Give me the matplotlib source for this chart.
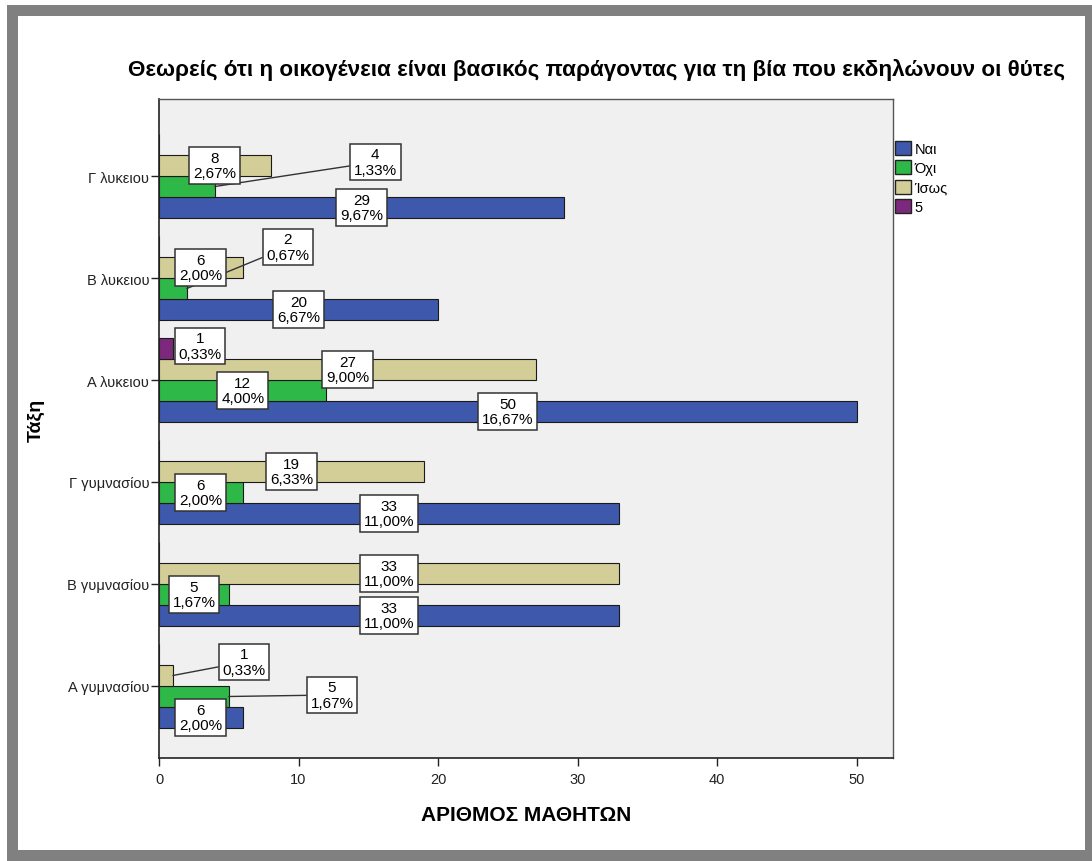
import matplotlib
matplotlib.use('Agg')
import matplotlib.pyplot as plt
from matplotlib.patches import Rectangle, Patch
import numpy as np

plt.rcParams['font.family'] = ['Liberation Sans', 'DejaVu Sans']

# ---------------- data ----------------
categories = ['Α γυμνασίου', 'Β γυμνασίου', 'Γ γυμνασίου', 'Α λυκειου', 'Β λυκειου', 'Γ λυκειου']
series_names = ['Ναι', 'Όχι', 'Ίσως', '5']
nai = [6, 33, 33, 50, 20, 29]
ochi = [5, 5, 6, 12, 2, 4]
isos = [1, 33, 19, 27, 6, 8]
five = [0, 0, 0, 1, 0, 0]
total_n = 300
x_ticks = [0, 10, 20, 30, 40, 50]

title = 'Θεωρείς ότι η οικογένεια είναι βασικός παράγοντας για τη βία που εκδηλώνουν οι θύτες'
x_label = 'ΑΡΙΘΜΟΣ ΜΑΘΗΤΩΝ'
y_label = 'Τάξη'

# ---------------- styles / placement ----------------
colors = ['#3E58AC', '#2EB848', '#D3CE97', '#7C287D']
# labels moved away from the bar (series index, category index) -> label position (data coords)
label_moves = {
    (1, 5): (15.5, 5.137),
    (1, 4): (9.24, 4.304),
    (3, 3): (2.94, 3.333),
    (2, 0): (6.09, 0.235),
    (1, 0): (12.4, -0.088),
}

W, H = 1092, 862
fig = plt.figure(figsize=(W / 100, H / 100), dpi=100)
fig.patch.set_facecolor('white')

def rect_px(x0, y0, x1, y1, color):
    fig.add_artist(Rectangle((x0 / W, 1 - y1 / H), (x1 - x0) / W, (y1 - y0) / H,
                             transform=fig.transFigure, facecolor=color,
                             edgecolor='none', zorder=0))

# outer grey frame
frame_c = '#808080'
rect_px(7, 6, W, 17, frame_c)
rect_px(7, 6, 18, H, frame_c)
rect_px(1085, 6, W, H, frame_c)
rect_px(7, 851, W, H, frame_c)

ax = fig.add_axes([159 / W, 1 - 759 / H, (893 - 159) / W, (759 - 100) / H])
ax.set_facecolor('#F0F0F0')

h = 0.206
ypos = np.arange(len(categories))
offsets = [-1.5, -0.5, 0.5, 1.5]
all_series = [nai, ochi, isos, five]

for s, (vals, off, c, name) in enumerate(zip(all_series, offsets, colors, series_names)):
    ax.barh(ypos + off * h, vals, height=h, color=c, edgecolor='#1a1a1a',
            linewidth=0.8, label=name, zorder=2)

bbox_style = dict(boxstyle='square,pad=0.25', facecolor='white', edgecolor='#333333', linewidth=1.1)
for s, (vals, off) in enumerate(zip(all_series, offsets)):
    for i, v in enumerate(vals):
        if v <= 0:
            continue
        yc = i + off * h
        txt = f'{v}\n{v / total_n * 100:.2f}%'.replace('.', ',')
        if (s, i) in label_moves:
            lx, ly = label_moves[(s, i)]
            ax.annotate(txt, xy=(v, yc), xytext=(lx, ly), textcoords='data',
                        ha='center', va='center', fontsize=11, linespacing=1.1,
                        bbox=bbox_style, zorder=4,
                        arrowprops=dict(arrowstyle='-', color='#333333', lw=1,
                                        shrinkA=0, shrinkB=0))
        else:
            ax.text(v / 2, yc, txt, ha='center', va='center', fontsize=11,
                    linespacing=1.1, bbox=bbox_style, zorder=4)

ax.set_xlim(0, 52.6)
ax.set_ylim(-0.706, 5.755)
ax.set_xticks(x_ticks)
ax.set_xticklabels([str(t) for t in x_ticks])
ax.set_yticks(ypos)
ax.set_yticklabels(categories)
ax.tick_params(axis='both', length=6, width=1, color='#222222', labelcolor='#222222')
ax.tick_params(axis='x', labelsize=10.5, pad=4)
ax.tick_params(axis='y', labelsize=10.5, pad=1)

for side in ['left', 'bottom']:
    ax.spines[side].set_color('#222222')
    ax.spines[side].set_linewidth(1.2)
for side in ['top', 'right']:
    ax.spines[side].set_color('#555555')
    ax.spines[side].set_linewidth(1)

ax.set_xlabel(x_label, fontsize=15, fontweight='bold', labelpad=14)
ax.set_ylabel(y_label, fontsize=14, fontweight='bold')
ax.yaxis.set_label_coords(-0.155, 0.514)

fig.text(596 / W, 1 - 70 / H, title, ha='center', va='center',
         fontsize=16.2, fontweight='bold')

handles = [Patch(facecolor=c, edgecolor='#222222', label=n) for c, n in zip(colors, series_names)]
fig.legend(handles=handles, loc='upper left', bbox_to_anchor=(895 / W, 1 - 142 / H),
           bbox_transform=fig.transFigure, frameon=False, fontsize=10.5,
           handlelength=1.1, handleheight=1.1, handletextpad=0.25,
           labelspacing=0.3, borderpad=0, borderaxespad=0)

fig.savefig('out.png', dpi=100)
